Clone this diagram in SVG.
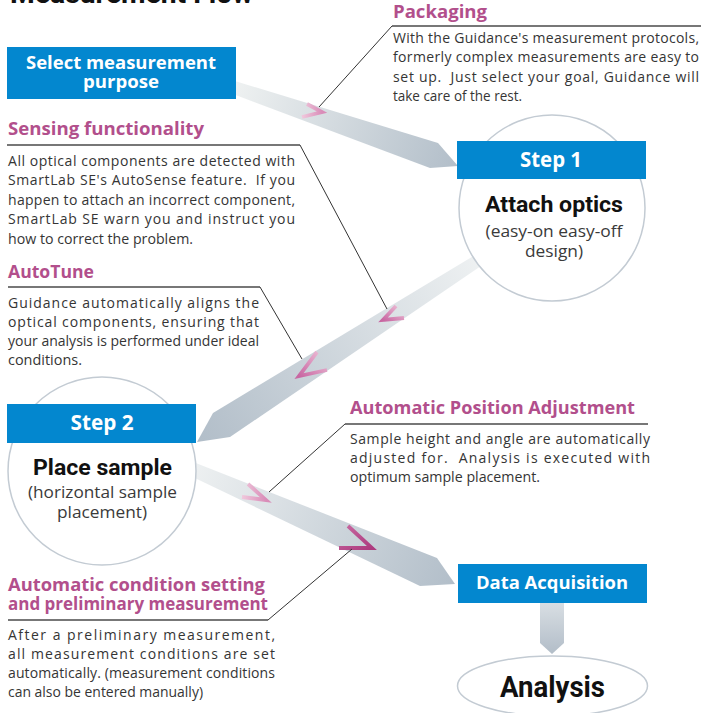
<svg xmlns="http://www.w3.org/2000/svg" width="701" height="713" viewBox="0 0 701 713">
<defs>
<style>
.ttl{font-family:"Open Sans","Noto Sans",sans-serif;font-weight:700;font-size:18px;fill:#b24f8c}
.bd{font-family:"Open Sans","Noto Sans",sans-serif;font-size:14px;fill:#353535;white-space:pre}
.box{fill:#0387cf}
.bt{font-family:"Open Sans","Noto Sans",sans-serif;font-weight:700;fill:#fff;text-anchor:middle}
.hd{font-family:Roboto,"Open Sans",sans-serif;font-weight:700;fill:#111;text-anchor:middle}
.sub{font-family:"Open Sans","Noto Sans",sans-serif;font-size:16px;fill:#3a3a3a;text-anchor:middle}
.lead{fill:none;stroke:#333;stroke-width:1}
.rule{stroke:#4a4a4a;stroke-width:1.3}
.circ{fill:#fff;stroke:#c3cbd3;stroke-width:1.5}
.chev{fill:none;stroke-width:3.8;stroke-linejoin:miter;stroke-linecap:butt}
</style>
<linearGradient id="g1" gradientUnits="userSpaceOnUse" x1="236" y1="87" x2="458" y2="166"><stop offset="0" stop-color="#eef1f1"/><stop offset="1" stop-color="#b2bec9"/></linearGradient>
<linearGradient id="g2" gradientUnits="userSpaceOnUse" x1="480" y1="260" x2="200" y2="440"><stop offset="0" stop-color="#eef1f2"/><stop offset="1" stop-color="#b2bec9"/></linearGradient>
<linearGradient id="g3" gradientUnits="userSpaceOnUse" x1="195" y1="468" x2="455" y2="584"><stop offset="0" stop-color="#edf0f1"/><stop offset="1" stop-color="#b2bec9"/></linearGradient>
<linearGradient id="g4" x1="0" y1="0" x2="0" y2="1"><stop offset="0" stop-color="#d8dee3"/><stop offset="1" stop-color="#b2bdc8"/></linearGradient>
<linearGradient id="pkL" x1="0" y1="0" x2="1" y2="0"><stop offset="0" stop-color="#f0c8dc"/><stop offset="1" stop-color="#d98cb8"/></linearGradient>
<linearGradient id="pkM" x1="1" y1="0" x2="0" y2="1"><stop offset="0" stop-color="#f0c4da"/><stop offset="1" stop-color="#c867a2"/></linearGradient>
<linearGradient id="pkD" x1="0" y1="0" x2="1" y2="1"><stop offset="0" stop-color="#c86aa2"/><stop offset="1" stop-color="#ad3a7f"/></linearGradient>
</defs>
<rect width="701" height="713" fill="#fff"/>

<text x="10" y="3" font-family="Roboto,'Open Sans',sans-serif" font-weight="700" font-size="27" fill="#111" textLength="243" lengthAdjust="spacingAndGlyphs">Measurement Flow</text>

<g id="connectors">
  <polygon points="225,78 438,143 458,166 430,168 225,91" fill="url(#g1)"/>
  <polygon points="495,243 213,413 197,442 230,437 500,253" fill="url(#g2)"/>
  <polygon points="178,456 437,558 455,584 420,586 176,469" fill="url(#g3)"/>
  <polygon points="540,603 564,603 564,643 552,654 540,643" fill="url(#g4)"/>
  <polyline class="chev" points="307,104 322,112 302,117" stroke="url(#pkL)"/>
  <polyline class="chev" points="396,306 383,320 404,318" stroke="url(#pkM)"/>
  <polyline class="chev" points="317,352 299,376 327,370" stroke="url(#pkM)"/>
  <polyline class="chev" points="248,484 266,500 242,497" stroke="url(#pkL)"/>
  <polyline class="chev" points="348,526 372,548 339,548" stroke="url(#pkD)"/>
</g>

<g id="select">
  <rect class="box" x="7" y="47" width="229" height="52"/>
  <text class="bt" x="121" y="69" font-size="18" textLength="190" lengthAdjust="spacingAndGlyphs">Select measurement</text>
  <text class="bt" x="121" y="88" font-size="18" textLength="76" lengthAdjust="spacingAndGlyphs">purpose</text>
</g>

<g id="step1">
  <circle class="circ" cx="552" cy="208" r="93"/>
  <rect class="box" x="457" y="141" width="189" height="38"/>
  <text class="bt" x="551" y="167" font-size="21" textLength="62" lengthAdjust="spacingAndGlyphs">Step 1</text>
  <text class="hd" x="554" y="212" font-size="22" textLength="138" lengthAdjust="spacingAndGlyphs">Attach optics</text>
  <text class="sub" x="554" y="237" textLength="137" lengthAdjust="spacingAndGlyphs">(easy-on easy-off</text>
  <text class="sub" x="554" y="257" textLength="58" lengthAdjust="spacingAndGlyphs">design)</text>
</g>

<g id="step2">
  <circle class="circ" cx="102" cy="471" r="94"/>
  <rect class="box" x="7" y="404" width="189" height="39"/>
  <text class="bt" x="102" y="430" font-size="21" textLength="63" lengthAdjust="spacingAndGlyphs">Step 2</text>
  <text class="hd" x="102.5" y="475" font-size="22" textLength="139" lengthAdjust="spacingAndGlyphs">Place sample</text>
  <text class="sub" x="102.5" y="498" textLength="149" lengthAdjust="spacingAndGlyphs">(horizontal sample</text>
  <text class="sub" x="102" y="518" textLength="90" lengthAdjust="spacingAndGlyphs">placement)</text>
</g>

<g id="data-acquisition">
  <rect class="box" x="458" y="564" width="189" height="39"/>
  <text class="bt" x="552" y="589" font-size="18" textLength="152" lengthAdjust="spacingAndGlyphs">Data Acquisition</text>
</g>

<g id="analysis">
  <ellipse cx="552.5" cy="686" rx="95" ry="30" fill="#fff" stroke="#c3cbd3" stroke-width="1.5"/>
  <text class="hd" x="552.5" y="697" font-size="29" textLength="105" lengthAdjust="spacingAndGlyphs">Analysis</text>
</g>

<g id="packaging">
  <text class="ttl" x="393" y="17.5" textLength="94" lengthAdjust="spacingAndGlyphs">Packaging</text>
  <line class="rule" x1="392" y1="26" x2="701" y2="26"/>
  <polyline class="lead" points="392,26 319,107"/>
  <text class="bd" x="393" y="43" textLength="306" lengthAdjust="spacing">With the Guidance's measurement protocols,</text>
  <text class="bd" x="393" y="62" textLength="306" lengthAdjust="spacing">formerly complex measurements are easy to</text>
  <text class="bd" x="393" y="82" textLength="306" lengthAdjust="spacing">set up.  Just select your goal, Guidance will</text>
  <text class="bd" x="393" y="101" textLength="129" lengthAdjust="spacingAndGlyphs">take care of the rest.</text>
</g>

<g id="sensing">
  <text class="ttl" x="8" y="135" textLength="196" lengthAdjust="spacingAndGlyphs">Sensing functionality</text>
  <line class="rule" x1="7" y1="145" x2="300" y2="145"/>
  <polyline class="lead" points="300,145 387,309"/>
  <text class="bd" x="8" y="166" textLength="287" lengthAdjust="spacing">All optical components are detected with</text>
  <text class="bd" x="8" y="185" textLength="287" lengthAdjust="spacing">SmartLab SE's AutoSense feature.  If you</text>
  <text class="bd" x="8" y="205" textLength="287" lengthAdjust="spacing">happen to attach an incorrect component,</text>
  <text class="bd" x="8" y="224" textLength="287" lengthAdjust="spacing">SmartLab SE warn you and instruct you</text>
  <text class="bd" x="8" y="244" textLength="185" lengthAdjust="spacingAndGlyphs">how to correct the problem.</text>
</g>

<g id="autotune">
  <text class="ttl" x="8" y="278" textLength="86" lengthAdjust="spacingAndGlyphs">AutoTune</text>
  <line class="rule" x1="8" y1="287" x2="260" y2="287"/>
  <polyline class="lead" points="260,287 302,359"/>
  <text class="bd" x="8" y="308" textLength="251" lengthAdjust="spacing">Guidance automatically aligns the</text>
  <text class="bd" x="8" y="327" textLength="251" lengthAdjust="spacing">optical components, ensuring that</text>
  <text class="bd" x="8" y="346" textLength="251" lengthAdjust="spacing">your analysis is performed under ideal</text>
  <text class="bd" x="8" y="365" textLength="74" lengthAdjust="spacingAndGlyphs">conditions.</text>
</g>

<g id="position">
  <text class="ttl" x="350" y="414" textLength="285" lengthAdjust="spacingAndGlyphs">Automatic Position Adjustment</text>
  <line class="rule" x1="345" y1="424" x2="648" y2="424"/>
  <polyline class="lead" points="345,424 269,492"/>
  <text class="bd" x="350" y="444" textLength="300" lengthAdjust="spacing">Sample height and angle are automatically</text>
  <text class="bd" x="350" y="463" textLength="300" lengthAdjust="spacing">adjusted for.  Analysis is executed with</text>
  <text class="bd" x="350" y="482" textLength="190" lengthAdjust="spacingAndGlyphs">optimum sample placement.</text>
</g>

<g id="condition">
  <text class="ttl" x="8" y="591" textLength="257" lengthAdjust="spacingAndGlyphs">Automatic condition setting</text>
  <text class="ttl" x="8" y="610" textLength="260" lengthAdjust="spacingAndGlyphs">and preliminary measurement</text>
  <line class="rule" x1="8" y1="620" x2="268" y2="620"/>
  <polyline class="lead" points="268,620 352,549"/>
  <text class="bd" x="8" y="640" textLength="267" lengthAdjust="spacing">After a preliminary measurement,</text>
  <text class="bd" x="8" y="659" textLength="267" lengthAdjust="spacing">all measurement conditions are set</text>
  <text class="bd" x="8" y="678" textLength="267" lengthAdjust="spacing">automatically. (measurement conditions</text>
  <text class="bd" x="8" y="697" textLength="195" lengthAdjust="spacingAndGlyphs">can also be entered manually)</text>
</g>
</svg>
